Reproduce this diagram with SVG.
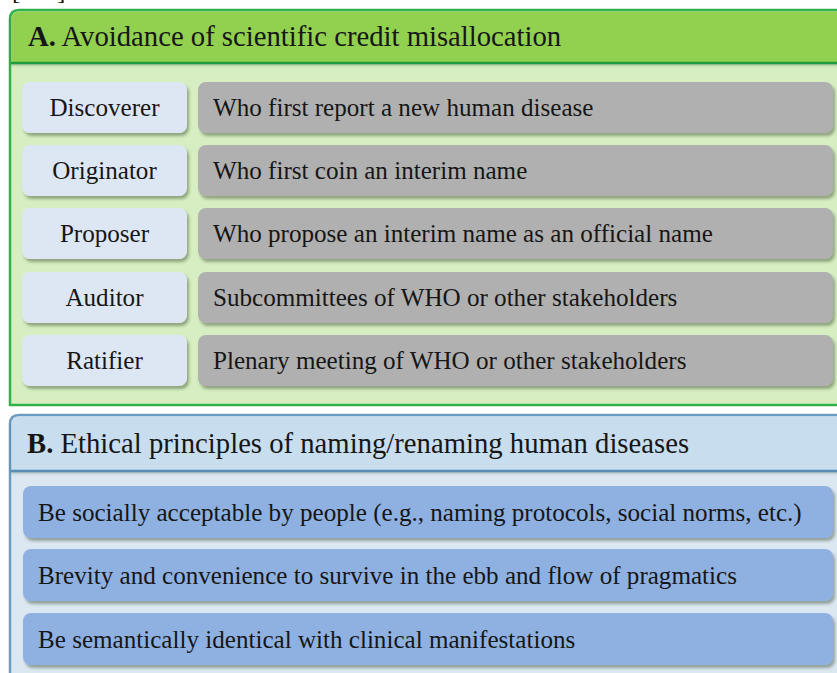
<svg xmlns="http://www.w3.org/2000/svg" width="837" height="673" viewBox="0 0 837 673">
  <defs>
    <filter id="shadow" x="-5%" y="-20%" width="115%" height="160%">
      <feDropShadow dx="2" dy="3" stdDeviation="1.6" flood-color="#3a4a2a" flood-opacity="0.45"/>
    </filter>
    <filter id="barShadow" x="-2%" y="-20%" width="104%" height="160%">
      <feDropShadow dx="0" dy="2" stdDeviation="1.5" flood-color="#1c3a1c" flood-opacity="0.35"/>
    </filter>
  </defs>
  <style>
    text { font-family: "Liberation Serif", "Times New Roman", serif; fill: #161616; }
    .head { font-size: 28.7px; }
    .body { font-size: 25.1px; }
    .lbl { font-size: 25.1px; text-anchor: middle; }
    .role { fill: #dde7f3; filter: url(#shadow); }
    .desc { fill: #b0b0b0; filter: url(#shadow); }
    .principle { fill: #8fb1e2; filter: url(#shadow); }
  </style>

  <rect width="837" height="673" fill="#ffffff"/>

  <!-- citation brackets running off the top edge -->
  <text x="12" y="-1" class="body">[</text>
  <text x="57" y="-1" class="body">]</text>

  <!-- Panel A -->
  <g id="panelA">
    <path d="M10,405 V19 Q10,10 19,10 H840 V405 Z" fill="#d6eec1" stroke="#2fb24c" stroke-width="2.5"/>
    <path d="M11.5,63 V19 Q11.5,11.5 19,11.5 H840 V63 Z" fill="#92d050" filter="url(#barShadow)"/>
    <line x1="11" y1="63" x2="840" y2="63" stroke="#1f9c40" stroke-width="2.5"/>
    <text x="28" y="46" class="head"><tspan font-weight="bold">A.</tspan> Avoidance of scientific credit misallocation</text>
  </g>

  <g id="discoverer">
    <rect x="22" y="82" width="165" height="51" rx="8" class="role"/>
    <text x="104.5" y="116" class="lbl">Discoverer</text>
    <rect x="198" y="82" width="635" height="51" rx="8" class="desc"/>
    <text x="213" y="116" class="body">Who first report a new human disease</text>
  </g>
  <g id="originator">
    <rect x="22" y="145" width="165" height="51" rx="8" class="role"/>
    <text x="104.5" y="179" class="lbl">Originator</text>
    <rect x="198" y="145" width="635" height="51" rx="8" class="desc"/>
    <text x="213" y="179" class="body">Who first coin an interim name</text>
  </g>
  <g id="proposer">
    <rect x="22" y="208" width="165" height="51" rx="8" class="role"/>
    <text x="104.5" y="242" class="lbl">Proposer</text>
    <rect x="198" y="208" width="635" height="51" rx="8" class="desc"/>
    <text x="213" y="242" class="body">Who propose an interim name as an official name</text>
  </g>
  <g id="auditor">
    <rect x="22" y="272" width="165" height="51" rx="8" class="role"/>
    <text x="104.5" y="306" class="lbl">Auditor</text>
    <rect x="198" y="272" width="635" height="51" rx="8" class="desc"/>
    <text x="213" y="306" class="body">Subcommittees of WHO or other stakeholders</text>
  </g>
  <g id="ratifier">
    <rect x="22" y="335" width="165" height="51" rx="8" class="role"/>
    <text x="104.5" y="369" class="lbl">Ratifier</text>
    <rect x="198" y="335" width="635" height="51" rx="8" class="desc"/>
    <text x="213" y="369" class="body">Plenary meeting of WHO or other stakeholders</text>
  </g>

  <!-- Panel B -->
  <g id="panelB">
    <path d="M10,680 V424 Q10,415 19,415 H840 V680 Z" fill="#dbe8f2" stroke="#6b9cc2" stroke-width="2.5"/>
    <path d="M11.5,471 V424 Q11.5,416.5 19,416.5 H840 V471 Z" fill="#c8dded" filter="url(#barShadow)"/>
    <line x1="11" y1="471" x2="840" y2="471" stroke="#5a8db5" stroke-width="2.5"/>
    <text x="27" y="453" class="head"><tspan font-weight="bold">B.</tspan> Ethical principles of naming/renaming human diseases</text>
  </g>

  <g id="principle1">
    <rect x="23" y="486" width="810" height="52" rx="8" class="principle"/>
    <text x="38" y="521" class="body">Be socially acceptable by people (e.g., naming protocols, social norms, etc.)</text>
  </g>
  <g id="principle2">
    <rect x="23" y="549" width="810" height="52" rx="8" class="principle"/>
    <text x="38" y="584" class="body">Brevity and convenience to survive in the ebb and flow of pragmatics</text>
  </g>
  <g id="principle3">
    <rect x="23" y="613" width="810" height="52" rx="8" class="principle"/>
    <text x="38" y="648" class="body">Be semantically identical with clinical manifestations</text>
  </g>
</svg>
